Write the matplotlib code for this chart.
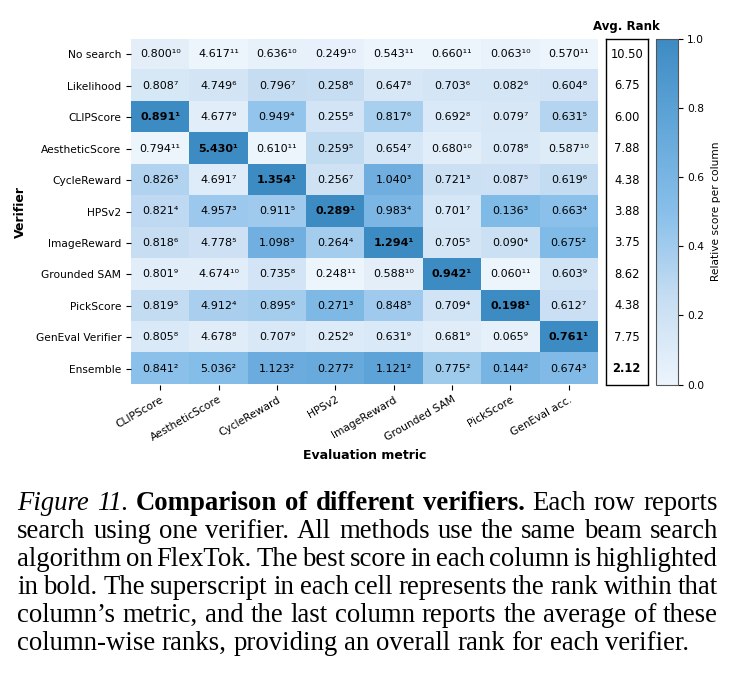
import numpy as np
import matplotlib
matplotlib.use('Agg')
import matplotlib.pyplot as plt
from matplotlib.colors import LinearSegmentedColormap

verifiers = ['No search', 'Likelihood', 'CLIPScore', 'AestheticScore', 'CycleReward',
             'HPSv2', 'ImageReward', 'Grounded SAM', 'PickScore', 'GenEval Verifier', 'Ensemble']
metrics = ['CLIPScore', 'AestheticScore', 'CycleReward', 'HPSv2', 'ImageReward',
           'Grounded SAM', 'PickScore', 'GenEval acc.']

# one list per evaluation metric, rows in the order of `verifiers`
clip_score = [0.800, 0.808, 0.891, 0.794, 0.826, 0.821, 0.818, 0.801, 0.819, 0.805, 0.841]
aesthetic = [4.617, 4.749, 4.677, 5.430, 4.691, 4.957, 4.778, 4.674, 4.912, 4.678, 5.036]
cycle_reward = [0.636, 0.796, 0.949, 0.610, 1.354, 0.911, 1.098, 0.735, 0.895, 0.707, 1.123]
hpsv2 = [0.249, 0.258, 0.255, 0.259, 0.256, 0.289, 0.264, 0.248, 0.271, 0.252, 0.277]
image_reward = [0.543, 0.647, 0.817, 0.654, 1.040, 0.983, 1.294, 0.588, 0.848, 0.631, 1.121]
grounded_sam = [0.660, 0.703, 0.692, 0.680, 0.721, 0.701, 0.705, 0.942, 0.709, 0.681, 0.775]
pick_score = [0.063, 0.082, 0.079, 0.078, 0.087, 0.136, 0.090, 0.060, 0.198, 0.065, 0.144]
geneval_acc = [0.570, 0.604, 0.631, 0.587, 0.619, 0.663, 0.675, 0.603, 0.612, 0.761, 0.674]

caption_lines = [
    [('Figure 11.', 'italic'), ('Comparison of different verifiers.', 'bold'), ('Each row reports', 'normal')],
    [('search using one verifier. All methods use the same beam search', 'normal')],
    [('algorithm on FlexTok. The best score in each column is highlighted', 'normal')],
    [('in bold. The superscript in each cell represents the rank within that', 'normal')],
    [('column\u2019s metric, and the last column reports the average of these', 'normal')],
    [('column-wise ranks, providing an overall rank for each verifier.', 'normal')],
]

scores = np.column_stack([clip_score, aesthetic, cycle_reward, hpsv2, image_reward,
                          grounded_sam, pick_score, geneval_acc])
nrow, ncol = scores.shape
# rank within column (1 = highest)
ranks = np.array([[1 + np.sum(scores[:, j] > scores[i, j]) for j in range(ncol)] for i in range(nrow)])
avg_rank = ranks.mean(1)
rel = (scores - scores.min(0)) / (scores.max(0) - scores.min(0))

sup = str.maketrans('0123456789', '\u2070\u00b9\u00b2\u00b3\u2074\u2075\u2076\u2077\u2078\u2079')

cmap = LinearSegmentedColormap.from_list('relblue', [(0.0, '#ecf4fc'), (0.25, '#c6ddf2'),
                                                     (0.5, '#88bfea'), (0.75, '#62a6d9'),
                                                     (1.0, '#3d8bc3')])

W, H = 735, 676
fig = plt.figure(figsize=(W/100, H/100), dpi=100)

def fax(x0, y0, x1, y1):
    return fig.add_axes([x0/W, 1 - y1/H, (x1-x0)/W, (y1-y0)/H])

ax = fax(131, 38.5, 598, 384.5)
im = ax.imshow(rel, cmap=cmap, vmin=0, vmax=1, aspect='auto', interpolation='nearest')
for i in range(nrow):
    for j in range(ncol):
        r = ranks[i, j]
        txt = '%.3f%s' % (scores[i, j], str(r).translate(sup))
        ax.text(j, i, txt, ha='center', va='center', fontsize=8, color='black',
                fontweight='bold' if r == 1 else 'normal')
ax.set_xticks(range(ncol))
ax.set_xticklabels(metrics, rotation=30, ha='right', rotation_mode='anchor', fontsize=7.7)
ax.set_yticks(range(nrow))
ax.set_yticklabels(verifiers, fontsize=7.7)
ax.tick_params(length=3.5, width=0.8)
for s in ax.spines.values():
    s.set_visible(False)
ax.set_xlabel('Evaluation metric', fontsize=9, fontweight='bold', labelpad=4)
ax.set_ylabel('Verifier', fontsize=9, fontweight='bold', labelpad=6)

# average rank column
ax2 = fax(606, 38.5, 647.5, 384.5)
ax2.set_xlim(0, 1)
ax2.set_ylim(nrow - 0.5, -0.5)
ax2.set_xticks([])
ax2.set_yticks([])
for s in ax2.spines.values():
    s.set_color('black')
    s.set_linewidth(1.0)
best = np.argmin(avg_rank)
for i in range(nrow):
    ax2.text(0.5, i, '%.2f' % avg_rank[i], ha='center', va='center', fontsize=8.3,
             fontweight='bold' if i == best else 'normal')
ax2.set_title('Avg. Rank', fontsize=8.5, fontweight='bold', pad=6)

# colorbar
cax = fax(656, 38.5, 677.5, 384.5)
cb = fig.colorbar(im, cax=cax)
cb.set_ticks([0.0, 0.2, 0.4, 0.6, 0.8, 1.0])
cb.ax.tick_params(labelsize=7.7, length=3.5, width=0.8)
cb.outline.set_edgecolor('#555555')
cb.outline.set_linewidth(0.8)
cb.set_label('Relative score per column', fontsize=7.7, labelpad=5)

# caption, justified like the paper
renderer = fig.canvas.get_renderer()
cap_fs = 19.3
left, right = 17, 718
space = 0.25 * cap_fs * 100 / 72
for k, line in enumerate(caption_lines):
    yb = 1 - (510 + 27.9 * k) / H
    words = []
    for seg, style in line:
        for w in seg.split(' '):
            kw = dict(fontsize=cap_fs, family='Liberation Serif', va='baseline', ha='left')
            if style == 'italic':
                kw['style'] = 'italic'
            elif style == 'bold':
                kw['weight'] = 'bold'
            t = fig.text(0, yb, w, **kw)
            words.append((t, t.get_window_extent(renderer).width))
    total = sum(wd for _, wd in words)
    if k < len(caption_lines) - 1:
        gap = (right - left - total) / (len(words) - 1)
    else:
        gap = space
    x = left
    for t, wd in words:
        t.set_x(x / W)
        x += wd + gap

fig.savefig('out.png', dpi=100)
